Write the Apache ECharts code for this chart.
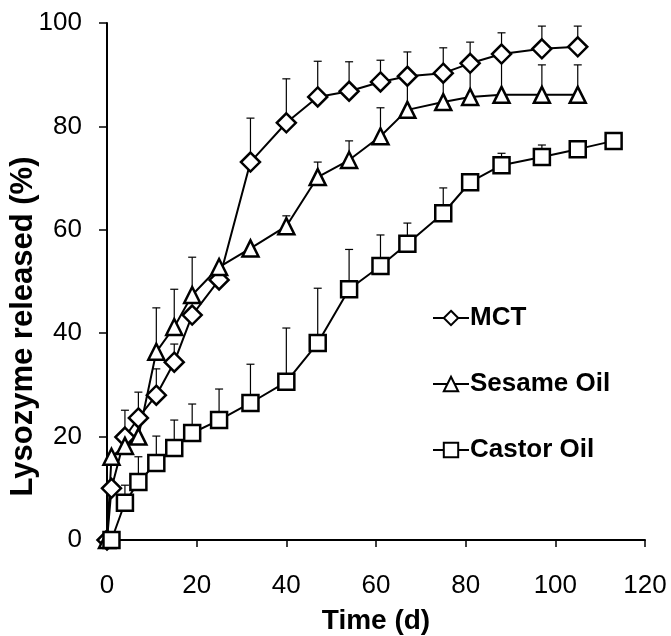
<!DOCTYPE html>
<html>
<head>
<meta charset="utf-8">
<script src="https://cdn.jsdelivr.net/npm/echarts@6/dist/echarts.min.js"></script>
<style>
html,body{margin:0;padding:0;background:#fff;}
#chart{width:671px;height:636px;}
</style>
</head>
<body>
<div id="chart"></div>
<script>
// Time (days) for each series
const timeMCT = [0, 1, 4, 7, 11, 15, 19, 25, 32, 40, 47, 54, 61, 67, 75, 81, 88, 97, 105];
const timeSesame = [0, 1, 4, 7, 11, 15, 19, 25, 32, 40, 47, 54, 61, 67, 75, 81, 88, 97, 105];
const timeCastor = [1, 4, 7, 11, 15, 19, 25, 32, 40, 47, 54, 61, 67, 75, 81, 88, 97, 105, 113];

// Lysozyme released (%)
const valMCT = [0, 10, 19.9, 23.6, 28, 34.4, 43.5, 50.3, 73.1, 80.7, 85.7, 86.8, 88.6, 89.7, 90.3, 92.2, 94.0, 95.0, 95.4];
const valSesame = [0, 16.1, 18.2, 20, 36.4, 41.2, 47.4, 52.8, 56.4, 60.7, 70.2, 73.5, 78.1, 83.2, 84.7, 85.7, 86.1, 86.1, 86.1];
const valCastor = [0, 7.2, 11.2, 14.9, 17.8, 20.7, 23.2, 26.5, 30.6, 38.1, 48.5, 53.0, 57.3, 63.2, 69.2, 72.5, 74.1, 75.6, 77.2];

// Upper end of error bars (null = not visible)
const errMCT = [null, null, 25.1, 28.6, 33.1, 37.9, null, null, 81.6, 89.2, 92.6, 92.5, 92.8, 94.4, 95.2, 96.3, 98.1, 99.4, 99.4];
const errSesame = [null, null, null, null, 44.9, 48.5, 54.7, null, null, 62.7, 73.1, 77.2, 83.6, 88.5, 89.5, 91.5, 93.0, 91.9, 91.9];
const errCastor = [null, 10.6, 16.1, 20.1, 23.2, 26.3, 29.2, 34.0, 41.0, 48.7, 56.2, 59.0, 61.3, 68.1, null, 74.8, 76.4, null, null];

const seriesNames = ['MCT', 'Sesame Oil', 'Castor Oil'];
const xTicks = {min: 0, max: 120, interval: 20};
const yTicks = {min: 0, max: 100, interval: 20};

const FONT = 'Liberation Sans, Arial, sans-serif';

function pts(t, v) { return t.map((x, i) => [x, v[i]]); }
function errPts(t, v, e) {
  const out = [];
  t.forEach((x, i) => { if (e[i] != null) out.push([x, v[i], e[i]]); });
  return out;
}
function renderErr(params, api) {
  const x = api.value(0), v = api.value(1), e = api.value(2);
  const p0 = api.coord([x, v]);
  const p1 = api.coord([x, e]);
  const st = {stroke: '#000', lineWidth: 1.2};
  return {type: 'group', children: [
    {type: 'line', shape: {x1: p0[0], y1: p0[1], x2: p1[0], y2: p1[1]}, style: st},
    {type: 'line', shape: {x1: p1[0] - 4, y1: p1[1], x2: p1[0] + 4, y2: p1[1]}, style: st}
  ]};
}
function lineSeries(name, data, symbol, size) {
  return {
    name: name, type: 'line', data: data, symbol: symbol, symbolSize: size,
    showAllSymbol: true, z: 3, animation: false,
    lineStyle: {color: '#000', width: 2},
    itemStyle: {color: '#fff', borderColor: '#000', borderWidth: 2.5}
  };
}
function errSeries(data) {
  return {type: 'custom', renderItem: renderErr, data: data, z: 1, animation: false,
    encode: {x: 0, y: 1}, clip: false, silent: true};
}

const chart = echarts.init(document.getElementById('chart'), null, {renderer: 'canvas'});
chart.setOption({
  backgroundColor: '#fff',
  animation: false,
  grid: {left: 107, right: 26, top: 23, bottom: 96, containLabel: false, outerBoundsMode: 'none'},
  legend: {
    data: seriesNames, orient: 'vertical', left: 427, top: 300,
    itemWidth: 36, itemHeight: 18, itemGap: 40,
    itemStyle: {borderWidth: 2},
    textStyle: {fontFamily: FONT, fontSize: 26, fontWeight: 'bold', color: '#000', padding: [0, 0, 0, -4]}
  },
  xAxis: {
    type: 'value', min: xTicks.min, max: xTicks.max, interval: xTicks.interval,
    name: 'Time (d)', nameLocation: 'middle', nameGap: 67, nameMoveOverlap: false,
    nameTextStyle: {fontFamily: FONT, fontSize: 28, fontWeight: 'bold', color: '#000'},
    axisLine: {lineStyle: {color: '#000', width: 2}},
    axisTick: {length: 7, lineStyle: {color: '#000', width: 1.5}},
    axisLabel: {fontFamily: FONT, fontSize: 26, color: '#000', margin: 33},
    splitLine: {show: false}
  },
  yAxis: {
    type: 'value', min: yTicks.min, max: yTicks.max, interval: yTicks.interval,
    name: 'Lysozyme released (%)', nameLocation: 'middle', nameGap: 68, nameRotate: 90, nameMoveOverlap: false,
    nameTextStyle: {fontFamily: FONT, fontSize: 31, fontWeight: 'bold', color: '#000', padding: [0, 90, 0, 0]},
    axisLine: {lineStyle: {color: '#000', width: 2}},
    axisTick: {length: 8, lineStyle: {color: '#000', width: 1.5}},
    axisLabel: {fontFamily: FONT, fontSize: 26, color: '#000', margin: 25},
    splitLine: {show: false}
  },
  series: [
    errSeries(errPts(timeMCT, valMCT, errMCT)),
    errSeries(errPts(timeSesame, valSesame, errSesame)),
    errSeries(errPts(timeCastor, valCastor, errCastor)),
    lineSeries(seriesNames[0], pts(timeMCT, valMCT), 'diamond', 19),
    lineSeries(seriesNames[1], pts(timeSesame, valSesame), 'triangle', 16),
    lineSeries(seriesNames[2], pts(timeCastor, valCastor), 'rect', 16)
  ]
});
</script>
</body>
</html>
